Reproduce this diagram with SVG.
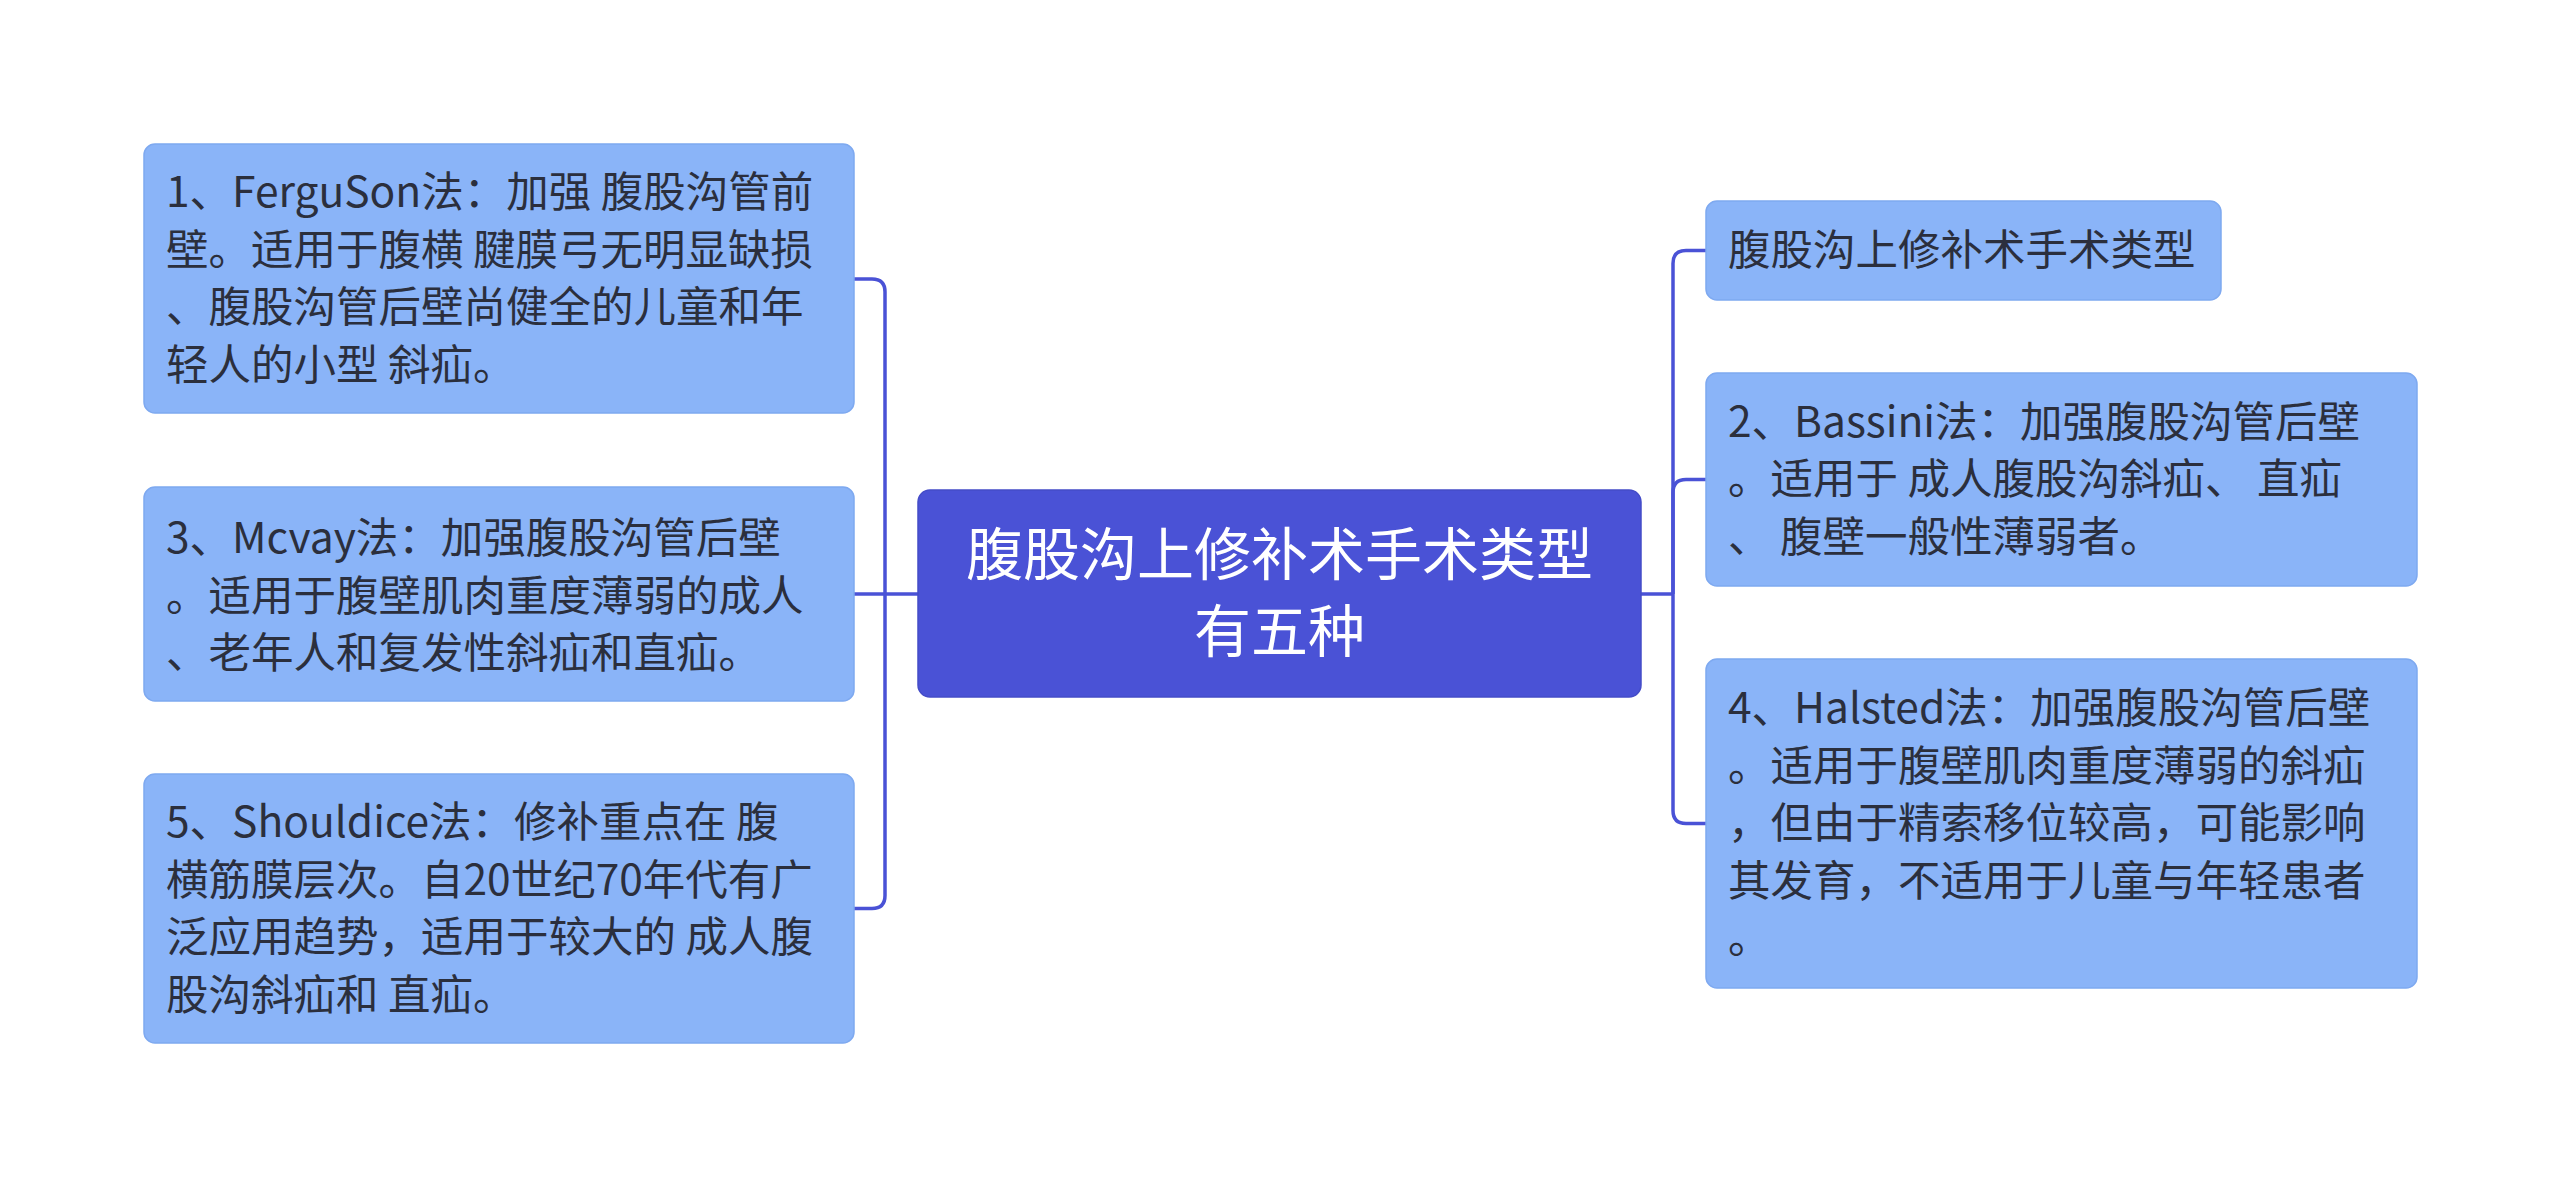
<svg xmlns="http://www.w3.org/2000/svg" width="2560" height="1189" viewBox="0 0 2560 1189">
<style>
.sub{fill:#8ab4f8;stroke:#7ea9f0;stroke-width:1.5}
.root{fill:#4a52d6;stroke:#444cc8;stroke-width:1.5}
.t{font-family:"Noto Sans CJK SC","Noto Sans",sans-serif;font-size:42.5px;fill:#2b2f3d}
.rt{font-family:"Noto Sans CJK SC","Noto Sans",sans-serif;font-size:57px;fill:#ffffff;text-anchor:middle}
.c{fill:none;stroke:#4a52d6;stroke-width:3.5}
</style>
<rect width="2560" height="1189" fill="#ffffff"/>
<g id="connectors">
<path class="c" d="M918,594 H854"/>
<path class="c" d="M885,594 V292 Q885,279 872,279 H854"/>
<path class="c" d="M885,594 V895.5 Q885,908.5 872,908.5 H854"/>
<path class="c" d="M1641,594 H1673"/>
<path class="c" d="M1673,594 V263.5 Q1673,250.5 1686,250.5 H1706"/>
<path class="c" d="M1673,594 V492.5 Q1673,479.5 1686,479.5 H1706"/>
<path class="c" d="M1673,594 V810.5 Q1673,823.5 1686,823.5 H1706"/>
</g>
<g id="root">
<rect class="root" x="918" y="490" width="723" height="207" rx="12"/>
<text class="rt" x="1279.5" y="575">腹股沟上修补术手术类型</text>
<text class="rt" x="1279.5" y="652">有五种</text>
</g>
<g id="n1">
<rect class="sub" x="144" y="144" width="710" height="269" rx="11"/>
<text class="t" x="166" y="207">1、FerguSon法：加强 腹股沟管前</text>
<text class="t" x="166" y="264.5">壁。适用于腹横 腱膜弓无明显缺损</text>
<text class="t" x="166" y="322">、腹股沟管后壁尚健全的儿童和年</text>
<text class="t" x="166" y="379.5">轻人的小型 斜疝。</text>
</g>
<g id="n3">
<rect class="sub" x="144" y="487" width="710" height="214" rx="11"/>
<text class="t" x="166" y="553">3、Mcvay法：加强腹股沟管后壁</text>
<text class="t" x="166" y="610.5">。适用于腹壁肌肉重度薄弱的成人</text>
<text class="t" x="166" y="668">、老年人和复发性斜疝和直疝。</text>
</g>
<g id="n5">
<rect class="sub" x="144" y="774" width="710" height="269" rx="11"/>
<text class="t" x="166" y="837">5、Shouldice法：修补重点在 腹</text>
<text class="t" x="166" y="894.5">横筋膜层次。自20世纪70年代有广</text>
<text class="t" x="166" y="952">泛应用趋势，适用于较大的 成人腹</text>
<text class="t" x="166" y="1009.5">股沟斜疝和 直疝。</text>
</g>
<g id="n0">
<rect class="sub" x="1706" y="201" width="515" height="99" rx="11"/>
<text class="t" x="1728" y="265">腹股沟上修补术手术类型</text>
</g>
<g id="n2">
<rect class="sub" x="1706" y="373" width="711" height="213" rx="11"/>
<text class="t" x="1728" y="436.5">2、Bassini法：加强腹股沟管后壁</text>
<text class="t" x="1728" y="494">。适用于 成人腹股沟斜疝、 直疝</text>
<text class="t" x="1728" y="551.5">、 腹壁一般性薄弱者。</text>
</g>
<g id="n4">
<rect class="sub" x="1706" y="659" width="711" height="329" rx="11"/>
<text class="t" x="1728" y="723">4、Halsted法：加强腹股沟管后壁</text>
<text class="t" x="1728" y="780.5">。适用于腹壁肌肉重度薄弱的斜疝</text>
<text class="t" x="1728" y="838">，但由于精索移位较高，可能影响</text>
<text class="t" x="1728" y="895.5">其发育，不适用于儿童与年轻患者</text>
<text class="t" x="1728" y="953">。</text>
</g>
</svg>
